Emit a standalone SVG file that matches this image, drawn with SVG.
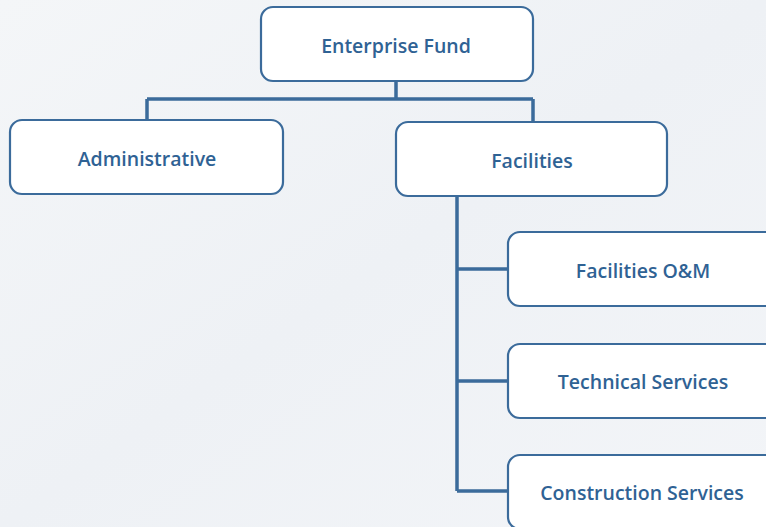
<svg xmlns="http://www.w3.org/2000/svg" width="766" height="527" viewBox="0 0 766 527">
<defs>
<linearGradient id="bg" x1="0" y1="0" x2="1" y2="1">
<stop offset="0" stop-color="#f4f6f8"/>
<stop offset="0.5" stop-color="#eef1f5"/>
<stop offset="1" stop-color="#f3f5f8"/>
</linearGradient>
</defs>
<style>
.box{fill:#ffffff;stroke:#3b6b9b;stroke-width:2.2}
.lbl{font-family:"Open Sans","Liberation Sans",sans-serif;font-size:19.5px;font-weight:600;fill:#2f6294;text-anchor:middle;dominant-baseline:central}
.con{fill:none;stroke:#3b6b9b;stroke-width:3.5}
</style>
<rect width="766" height="527" fill="url(#bg)"/>
<g id="connectors">
<path class="con" d="M396 81 V99 M147 99 H533 M147 99 V120 M533 99 V122"/>
<path class="con" d="M457 196 V491 M457 269 H508 M457 381 H508 M457 491 H508"/>
</g>
<g id="node-enterprise-fund">
<rect class="box" x="261" y="7" width="272" height="74" rx="12"/>
<text class="lbl" x="396" y="45">Enterprise Fund</text>
</g>
<g id="node-administrative">
<rect class="box" x="10" y="120" width="273" height="74" rx="12"/>
<text class="lbl" x="147" y="158">Administrative</text>
</g>
<g id="node-facilities">
<rect class="box" x="396" y="122" width="271" height="74" rx="12"/>
<text class="lbl" x="532" y="160">Facilities</text>
</g>
<g id="node-facilities-om">
<rect class="box" x="508" y="232" width="272" height="74" rx="12"/>
<text class="lbl" x="643" y="270">Facilities O&amp;M</text>
</g>
<g id="node-technical-services">
<rect class="box" x="508" y="344" width="272" height="74" rx="12"/>
<text class="lbl" x="643" y="381">Technical Services</text>
</g>
<g id="node-construction-services">
<rect class="box" x="508" y="455" width="272" height="74" rx="12"/>
<text class="lbl" x="642" y="492">Construction Services</text>
</g>
</svg>
